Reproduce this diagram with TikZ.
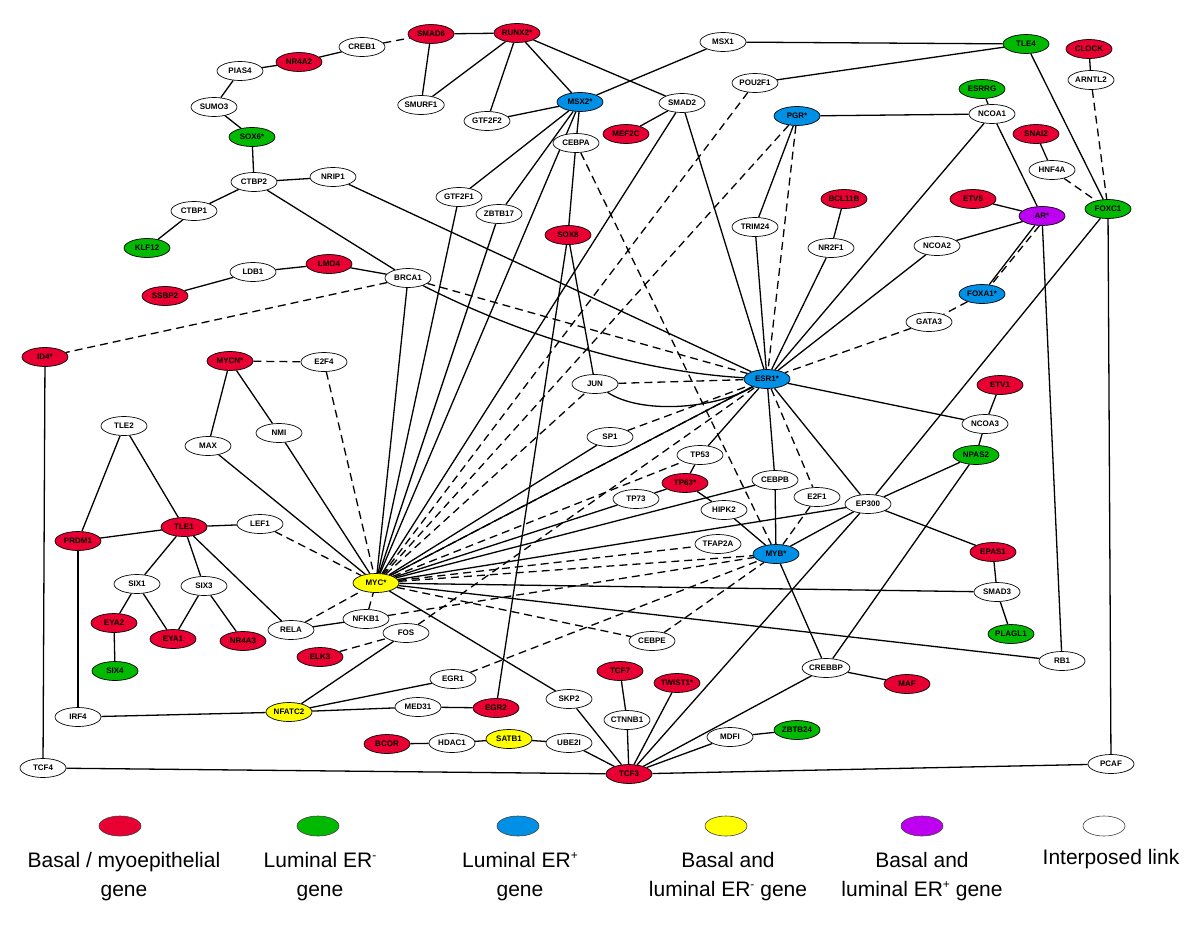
\documentclass[tikz,border=0pt]{standalone}
\usepackage{fontspec}
\setmainfont{Liberation Sans}
\usetikzlibrary{shapes.geometric}
\pgfdeclarelayer{bg}
\pgfsetlayers{bg,main}
\definecolor{cR}{RGB}{232,0,50}
\definecolor{cG}{RGB}{0,185,0}
\definecolor{cB}{RGB}{0,145,230}
\definecolor{cY}{RGB}{255,255,0}
\definecolor{cP}{RGB}{190,0,240}
\newcommand{\supsm}[1]{\raisebox{0.75ex}{\fontsize{12}{12}\selectfont #1}}
\begin{document}
\begin{tikzpicture}[x=1pt,y=-1pt,
 gn/.style={ellipse,draw=black,line width=0.7pt,minimum width=46pt,minimum height=19pt,inner sep=0pt,font=\fontsize{8}{8}\selectfont\bfseries},
 W/.style={gn,fill=white},
 R/.style={gn,fill=cR},
 G/.style={gn,fill=cG},
 B/.style={gn,fill=cB},
 Y/.style={gn,fill=cY},
 P/.style={gn,fill=cP},
 ln/.style={line width=1.3pt},
 dl/.style={line width=1.3pt,dash pattern=on 8pt off 5pt},
 lg/.style={ellipse,draw=black!75,line width=0.6pt,minimum width=42pt,minimum height=20pt,inner sep=0pt},
 lt/.style={align=center,font=\fontsize{21}{29}\selectfont,anchor=north}
]
\useasboundingbox (0,0) rectangle (1200,948);
% nodes
\node[W] (CREB1) at (362,47) {CREB1};
\node[R] (NR4A2) at (299,62) {NR4A2};
\node[W] (PIAS4) at (240,71) {PIAS4};
\node[W] (SUMO3) at (214,107) {SUMO3};
\node[G] (SOX6) at (252,137) {SOX6*};
\node[W] (CTBP2) at (254,182) {CTBP2};
\node[W] (NRIP1) at (333,177) {NRIP1};
\node[W] (CTBP1) at (194,211) {CTBP1};
\node[G] (KLF12) at (147,248) {KLF12};
\node[W] (LDB1) at (253,272) {LDB1};
\node[R] (LMO4) at (329,264) {LMO4};
\node[R] (SSBP2) at (165,296) {SSBP2};
\node[W] (BRCA1) at (408,278) {BRCA1};
\node[R] (SMAD6) at (431,34) {SMAD6};
\node[R] (RUNX2) at (517,33) {RUNX2*};
\node[W] (SMURF1) at (421,105) {SMURF1};
\node[W] (GTF2F2) at (487,121) {GTF2F2};
\node[B] (MSX2) at (580,102) {MSX2*};
\node[W] (SMAD2) at (682,103) {SMAD2};
\node[W] (MSX1) at (723,42) {MSX1};
\node[W] (POU2F1) at (755,83) {POU2F1};
\node[W] (CEBPA) at (576,143) {CEBPA};
\node[R] (MEF2C) at (626,134) {MEF2C};
\node[W] (GTF2F1) at (459,197) {GTF2F1};
\node[W] (ZBTB17) at (499,214) {ZBTB17};
\node[R] (SOX8) at (568,235) {SOX8};
\node[W] (TRIM24) at (755,227) {TRIM24};
\node[B] (PGR) at (797,116) {PGR*};
\node[G] (TLE4) at (1026,44) {TLE4};
\node[R] (CLOCK) at (1089,49) {CLOCK};
\node[W] (ARNTL2) at (1091,80) {ARNTL2};
\node[G] (ESRRG) at (982,89) {ESRRG};
\node[W] (NCOA1) at (992,114) {NCOA1};
\node[R] (SNAI2) at (1036,134) {SNAI2};
\node[W] (HNF4A) at (1052,170) {HNF4A};
\node[R] (BCL11B) at (844,199) {BCL11B};
\node[R] (ETV5) at (973,199) {ETV5};
\node[P] (AR) at (1042,216) {AR*};
\node[G] (FOXC1) at (1108,209) {FOXC1};
\node[W] (NR2F1) at (831,248) {NR2F1};
\node[W] (NCOA2) at (937,246) {NCOA2};
\node[B] (FOXA1) at (982,294) {FOXA1*};
\node[W] (GATA3) at (929,322) {GATA3};
\node[R] (ID4) at (45,357) {ID4*};
\node[R] (MYCN) at (230,361) {MYCN*};
\node[W] (E2F4) at (324,362) {E2F4};
\node[W] (TLE2) at (124,426) {TLE2};
\node[W] (MAX) at (208,446) {MAX};
\node[W] (NMI) at (279,433) {NMI};
\node[R] (TLE1) at (184,527) {TLE1};
\node[W] (LEF1) at (260,524) {LEF1};
\node[R] (PRDM1) at (78,541) {PRDM1};
\node[W] (SIX1) at (137,584) {SIX1};
\node[W] (SIX3) at (204,586) {SIX3};
\node[Y] (MYC) at (376,583) {MYC*};
\node[R] (EYA2) at (114,623) {EYA2};
\node[R] (EYA1) at (173,639) {EYA1};
\node[R] (NR4A3) at (243,641) {NR4A3};
\node[W] (RELA) at (291,630) {RELA};
\node[W] (NFKB1) at (366,619) {NFKB1};
\node[R] (ELK3) at (320,657) {ELK3};
\node[G] (SIX4) at (115,671) {SIX4};
\node[W] (IRF4) at (78,717) {IRF4};
\node[Y] (NFATC2) at (289,712) {NFATC2};
\node[R] (BCOR) at (387,744) {BCOR};
\node[W] (TCF4) at (43,768) {TCF4};
\node[W] (FOS) at (406,633) {FOS};
\node[W] (CEBPE) at (652,641) {CEBPE};
\node[W] (EGR1) at (453,679) {EGR1};
\node[R] (TCF7) at (620,671) {TCF7};
\node[R] (TWIST1) at (677,683) {TWIST1*};
\node[W] (SKP2) at (569,699) {SKP2};
\node[W] (MED31) at (418,707) {MED31};
\node[R] (EGR2) at (496,708) {EGR2};
\node[W] (CTNNB1) at (627,720) {CTNNB1};
\node[W] (HDAC1) at (452,743) {HDAC1};
\node[Y] (SATB1) at (509,739) {SATB1};
\node[W] (UBE2I) at (569,743) {UBE2I};
\node[W] (MDFI) at (730,737) {MDFI};
\node[G] (ZBTB24) at (797,730) {ZBTB24};
\node[R] (TCF3) at (629,774) {TCF3};
\node[G] (PLAGL1) at (1011,634) {PLAGL1};
\node[W] (RB1) at (1062,661) {RB1};
\node[W] (CREBBP) at (826,668) {CREBBP};
\node[R] (MAF) at (907,684) {MAF};
\node[W] (PCAF) at (1111,764) {PCAF};
\node[W] (JUN) at (595,384) {JUN};
\node[B] (ESR1) at (767,379) {ESR1*};
\node[W] (SP1) at (610,437) {SP1};
\node[W] (TP53) at (700,455) {TP53};
\node[R] (TP63) at (685,483) {TP63*};
\node[W] (CEBPB) at (775,480) {CEBPB};
\node[W] (TP73) at (636,499) {TP73};
\node[W] (HIPK2) at (724,510) {HIPK2};
\node[W] (TFAP2A) at (718,544) {TFAP2A};
\node[B] (MYB) at (776,554) {MYB*};
\node[R] (ETV1) at (1000,385) {ETV1};
\node[W] (NCOA3) at (985,424) {NCOA3};
\node[G] (NPAS2) at (976,455) {NPAS2};
\node[W] (E2F1) at (817,497) {E2F1};
\node[W] (EP300) at (868,504) {EP300};
\node[R] (EPAS1) at (993,552) {EPAS1};
\node[W] (SMAD3) at (997,592) {SMAD3};
% edges
\begin{pgfonlayer}{bg}
\foreach \a/\b in {NR4A2/CREB1,PIAS4/NR4A2,PIAS4/SUMO3,SUMO3/SOX6,SOX6/CTBP2,CTBP2/NRIP1,CTBP2/CTBP1,CTBP1/KLF12,CTBP2/BRCA1,NRIP1/ESR1,SSBP2/LDB1,LDB1/LMO4,LMO4/BRCA1,BRCA1/MYC,SMAD6/RUNX2,SMAD6/SMURF1,RUNX2/SMURF1,RUNX2/GTF2F2,RUNX2/MSX2,RUNX2/SMAD2,GTF2F2/MSX2,MSX2/MSX1,MSX2/CEBPA,MSX2/GTF2F1,MSX2/ZBTB17,MSX2/MYC,CEBPA/SOX8,SOX8/JUN,SOX8/EGR2,GTF2F1/MYC,ZBTB17/MYC,SMAD2/MEF2C,SMAD2/MYC,SMAD2/ESR1,MSX1/TLE4,POU2F1/TLE4,PGR/NCOA1,PGR/TRIM24,TRIM24/ESR1,ESRRG/NCOA1,NCOA1/ESR1,NCOA1/AR,TLE4/FOXC1,CLOCK/ARNTL2,SNAI2/HNF4A,BCL11B/NR2F1,NR2F1/ESR1,ETV5/AR,AR/NCOA2,NCOA2/ESR1,AR/FOXA1,AR/RB1,FOXC1/PCAF,FOXC1/EP300,ID4/TCF4,MYCN/MAX,MYCN/NMI,MAX/MYC,NMI/MYC,TLE2/PRDM1,TLE2/TLE1,PRDM1/TLE1,PRDM1/IRF4,TLE1/LEF1,TLE1/SIX1,TLE1/SIX3,TLE1/RELA,SIX1/EYA2,SIX1/EYA1,SIX3/EYA1,SIX3/NR4A3,EYA2/SIX4,RELA/NFKB1,FOS/NFATC2,IRF4/NFATC2,NFATC2/EGR1,NFATC2/MED31,MED31/EGR2,BCOR/HDAC1,HDAC1/SATB1,SATB1/UBE2I,UBE2I/TCF3,SKP2/TCF3,MYC/SKP2,TCF7/CTNNB1,CTNNB1/TCF3,TWIST1/TCF3,MDFI/TCF3,MDFI/ZBTB24,TCF3/TCF4,TCF3/PCAF,TCF3/CREBBP,TCF3/EP300,CREBBP/MYB,CREBBP/NPAS2,CREBBP/MAF,MYC/SMAD3,MYC/RB1,MYC/EP300,MYC/CEBPB,MYC/SP1,MYC/TP73,TP73/TP63,TP63/TP53,TP63/HIPK2,TP53/ESR1,HIPK2/MYB,MYC/ESR1,ESR1/CEBPB,CEBPB/MYB,ESR1/EP300,ESR1/NCOA3,ETV1/NCOA3,NCOA3/NPAS2,NPAS2/EP300,EP300/EPAS1,EP300/MYB,EPAS1/SMAD3,SMAD3/PLAGL1}
  \draw[ln] (\a) -- (\b);
\foreach \a/\b in {CREB1/SMAD6,BRCA1/ID4,BRCA1/ESR1,CEBPA/MYB,POU2F1/MYC,PGR/ESR1,PGR/MYC,ARNTL2/FOXC1,HNF4A/FOXC1,FOXA1/GATA3,GATA3/ESR1,MYCN/E2F4,E2F4/MYC,LEF1/MYC,RELA/MYC,NFKB1/MYC,NFKB1/MYB,ELK3/FOS,FOS/ESR1,EGR1/MYB,MYC/CEBPE,CEBPE/MYB,MYC/TFAP2A,MYC/MYB,MYC/ESR1,MYC/JUN,MYC/TP53,JUN/ESR1,SP1/ESR1,ESR1/E2F1,E2F1/MYB}
  \draw[dl] (\a) -- (\b);
\draw[dl] (AR.255) -- (FOXA1.45);
\draw[ln] (BRCA1) .. controls (520,335) and (640,372) .. (ESR1);
\draw[ln] (JUN) .. controls (640,414) and (712,410) .. (ESR1);
\end{pgfonlayer}
% legend
\node[lg,fill=cR] (L1) at (120,826) {};
\node[lg,fill=cG] (L2) at (318,826) {};
\node[lg,fill=cB] (L3) at (518,826) {};
\node[lg,fill=cY] (L4) at (726,826) {};
\node[lg,fill=cP] (L5) at (922,826) {};
\node[lg,fill=white] (L6) at (1104,826) {};
\node[lt] (T1) at (124,849) {Basal / myoepithelial\\gene};
\node[lt] (T2) at (320,849) {Luminal ER\supsm{-}\\gene};
\node[lt] (T3) at (520,849) {Luminal ER\supsm{+}\\gene};
\node[lt] (T4) at (728,849) {Basal and\\luminal ER\supsm{-} gene};
\node[lt] (T5) at (922,849) {Basal and\\luminal ER\supsm{+} gene};
\node[lt] (T6) at (1111,846) {Interposed link};
\end{tikzpicture}
\end{document}
